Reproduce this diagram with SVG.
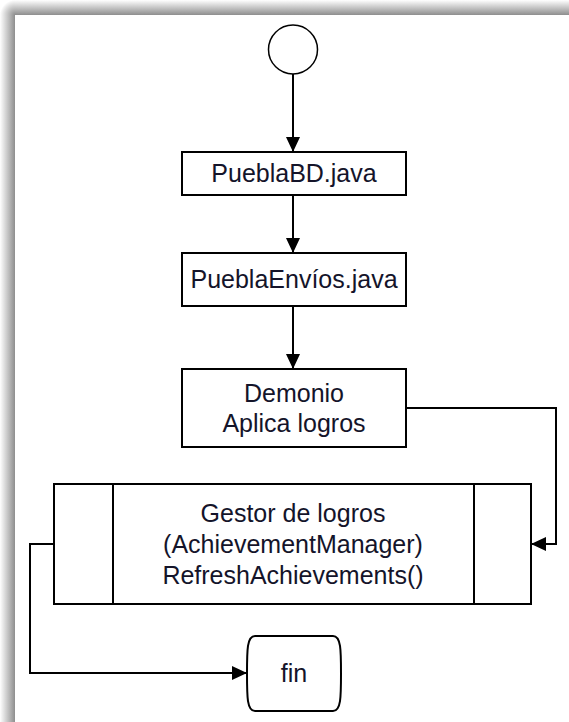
<svg xmlns="http://www.w3.org/2000/svg" width="569" height="722" viewBox="0 0 569 722">
  <style>
    .box { fill: #ffffff; stroke: #000000; stroke-width: 2; }
    .wire { fill: none; stroke: #000000; stroke-width: 2; }
    .lbl { font-family: "Liberation Sans", Arial, sans-serif; font-size: 25px; fill: #14142a; text-anchor: middle; }
  </style>
  <defs>
    <marker id="arrow" markerUnits="userSpaceOnUse" markerWidth="16" markerHeight="16" viewBox="0 0 16 16" refX="15" refY="8" orient="auto">
      <path d="M0,1 L15,8 L0,15 Z" fill="#000000"/>
    </marker>
    <linearGradient id="shadeTop" x1="0" y1="0" x2="0" y2="1">
      <stop offset="0" stop-color="#ffffff"/>
      <stop offset="1" stop-color="#8e8e8e"/>
    </linearGradient>
    <linearGradient id="shadeLeft" x1="0" y1="0" x2="1" y2="0">
      <stop offset="0" stop-color="#ffffff"/>
      <stop offset="1" stop-color="#8e8e8e"/>
    </linearGradient>
    <radialGradient id="shadeCorner" cx="15" cy="15" r="15" gradientUnits="userSpaceOnUse">
      <stop offset="0" stop-color="#8e8e8e"/>
      <stop offset="1" stop-color="#ffffff"/>
    </radialGradient>
  </defs>

  <!-- page background and window shadow -->
  <rect x="0" y="0" width="569" height="722" fill="#ffffff"/>
  <rect x="15" y="0" width="554" height="15" fill="url(#shadeTop)"/>
  <rect x="0" y="15" width="15" height="707" fill="url(#shadeLeft)"/>
  <rect x="0" y="0" width="15" height="15" fill="url(#shadeCorner)"/>

  <g id="connectors">
    <path class="wire" d="M293,74 V152" marker-end="url(#arrow)"/>
    <path class="wire" d="M293,195 V253" marker-end="url(#arrow)"/>
    <path class="wire" d="M293,306 V369" marker-end="url(#arrow)"/>
    <path class="wire" d="M406,408 H556 V544 H531" marker-end="url(#arrow)"/>
    <path class="wire" d="M54,544 H30 V673 H247" marker-end="url(#arrow)"/>
  </g>

  <g id="start">
    <circle cx="293" cy="49.5" r="24.5" fill="#ffffff" stroke="#000000" stroke-width="1.5"/>
  </g>

  <g id="pueblaBD">
    <rect class="box" x="182" y="152" width="224" height="43"/>
    <text class="lbl" x="294" y="182">PueblaBD.java</text>
  </g>

  <g id="pueblaEnvios">
    <rect class="box" x="182" y="253" width="224" height="53"/>
    <text class="lbl" x="294" y="288">PueblaEnvíos.java</text>
  </g>

  <g id="demonio">
    <rect class="box" x="182" y="369" width="224" height="78"/>
    <text class="lbl" x="294" y="402">Demonio</text>
    <text class="lbl" x="294" y="432">Aplica logros</text>
  </g>

  <g id="gestor">
    <rect class="box" x="54" y="484" width="477" height="120"/>
    <line class="wire" x1="113" y1="484" x2="113" y2="604"/>
    <line class="wire" x1="474" y1="484" x2="474" y2="604"/>
    <text class="lbl" x="293" y="522">Gestor de logros</text>
    <text class="lbl" x="293" y="553">(AchievementManager)</text>
    <text class="lbl" x="293" y="584">RefreshAchievements()</text>
  </g>

  <g id="fin">
    <path class="box" d="M255,636 H333 C341,636 341,650 341,673.5 C341,697 341,711 333,711 H255 C247,711 247,697 247,673.5 C247,650 247,636 255,636 Z"/>
    <text class="lbl" x="294" y="682">fin</text>
  </g>
</svg>
